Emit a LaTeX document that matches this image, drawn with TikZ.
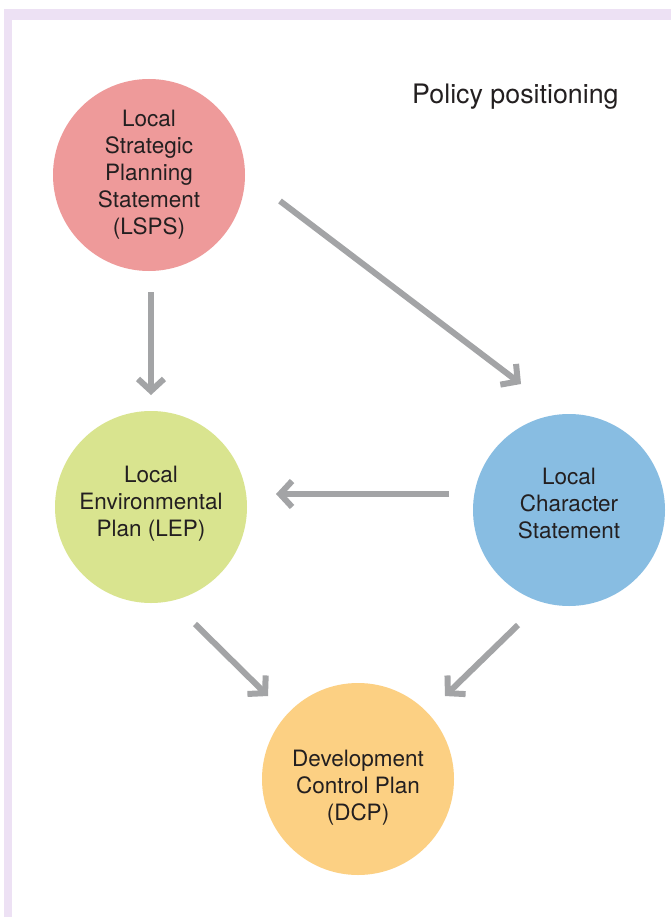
\documentclass[tikz,border=0pt]{standalone}
\usepackage{fontspec}
\setmainfont{TeX Gyre Heros}
\usetikzlibrary{arrows.meta,calc}

\definecolor{frame}{RGB}{237,225,244}
\definecolor{ink}{RGB}{35,31,32}
\definecolor{arrowgrey}{RGB}{163,164,166}
\definecolor{lspsfill}{RGB}{238,154,154}
\definecolor{lepfill}{RGB}{217,228,143}
\definecolor{lcsfill}{RGB}{136,189,226}
\definecolor{dcpfill}{RGB}{252,208,131}

\begin{document}
\begin{tikzpicture}[x=1pt,y=-1pt,
    plan/.style={circle,minimum size=192pt,inner sep=0pt},
    caption/.style={align=center,inner sep=0pt,text=ink,
      font=\fontsize{22.5}{27}\selectfont},
    flow/.style={draw=arrowgrey,line width=6pt,
      -{Straight Barb[length=12pt,width=26pt]}}]
        \useasboundingbox (0,0) rectangle (671,917);
        % frame along top and left
        \fill[frame] (4,9) rectangle (671,917);
        \fill[white] (12,20) rectangle (671,917);

        \node[anchor=base west,inner sep=0pt,text=ink,font=\fontsize{26.8}{30}\selectfont]
          (title) at (412,104) {Policy positioning};

        \node[plan,fill=lspsfill,label={[caption]center:Local\\Strategic\\Planning\\Statement\\(LSPS)}] (lsps) at (149,175) {};
        \node[plan,fill=lepfill,label={[caption,yshift=3pt]center:Local\\Environmental\\Plan (LEP)}] (lep) at (151,507) {};
        \node[plan,fill=lcsfill,label={[caption,yshift=7pt]center:Local\\Character\\Statement}] (lcs) at (569,510) {};
        \node[plan,fill=dcpfill,label={[caption,yshift=-9pt]center:Development\\Control Plan\\(DCP)}] (dcp) at (358,779) {};

        \draw[flow] ($(lsps)+(2,117)$) -- ($(lep)+(0,-112)$);
        \draw[flow] ($(lsps)+(131,26)$) -- ($(lcs)+(-48,-126)$);
        \draw[flow] ($(lcs)+(-120,-16)$) -- ($(lep)+(125,-13)$);
        \draw[flow] ($(lep)+(44,117)$) -- ($(dcp)+(-90,-83)$);
        \draw[flow] ($(lcs)+(-51,115)$) -- ($(dcp)+(87,-83)$);
      \end{tikzpicture}
\end{document}
